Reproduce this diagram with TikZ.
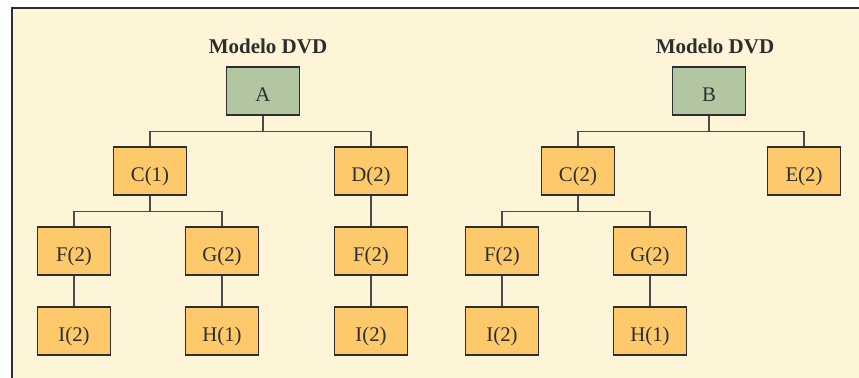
\documentclass[tikz,border=0pt]{standalone}
\usepackage{fontspec}
\setmainfont{Liberation Serif}
\usetikzlibrary{positioning}
\definecolor{crm}{HTML}{FEF4D8}
\definecolor{grn}{HTML}{B2C7A1}
\definecolor{org}{HTML}{FDC96B}
\definecolor{ink}{HTML}{2E2E2E}
\definecolor{wire}{HTML}{4A4A4A}

\begin{document}
\begin{tikzpicture}[
  x=0.5pt, y=-0.5pt,
  font=\fontsize{10.4}{12}\selectfont,
  part/.style={draw=ink, line width=0.75pt, fill=org, minimum width=36.5pt, minimum height=24pt, inner sep=0pt,
    text height=11pt, text depth=0pt, text=ink},
  root/.style={part, fill=grn},
  title/.style={font=\bfseries\fontsize{10.5}{12}\selectfont, text=ink, inner sep=0pt},
  link/.style={draw=wire, line width=0.6pt}
]
\useasboundingbox (0,0) rectangle (859,378);
% ---------------------------------------------------------------- frame
\fill[crm] (12,9) rectangle (859,378);
\draw[ink, line width=1pt] (11.5,378) -- (11.5,8.5) -- (859,8.5);

% ---------------------------------------------------------------- model A
\node[title] (ta) at (268,46) {Modelo DVD};
\node[root] (a) at (263,91) {A};
\node[part] (a-c) at (150,171) {C(1)};
\node[part] (a-d) at (371,171) {D(2)};
\node[part] (a-f) at (74,251) {F(2)};
\node[part] (a-g) at (222,251) {G(2)};
\node[part] (a-df) at (371,251) {F(2)};
\node[part] (a-i) at (74,331) {I(2)};
\node[part] (a-h) at (222,331) {H(1)};
\node[part] (a-di) at (371,331) {I(2)};

\coordinate (a-bar) at ([yshift=-8pt]a.south);
\coordinate (c-bar) at ([yshift=-8pt]a-c.south);
\draw[link] (a.south) -- (a-bar);
\draw[link] (a-c.north) |- (a-bar) -| (a-d.north);
\draw[link] (a-c.south) -- (c-bar);
\draw[link] (a-f.north) |- (c-bar) -| (a-g.north);
\draw[link] (a-d) -- (a-df);
\draw[link] (a-f) -- (a-i);
\draw[link] (a-g) -- (a-h);
\draw[link] (a-df) -- (a-di);

% ---------------------------------------------------------------- model B
\node[title] (tb) at (715,46) {Modelo DVD};
\node[root] (b) at (709,91) {B};
\node[part] (b-c) at (578,171) {C(2)};
\node[part] (b-e) at (804,171) {E(2)};
\node[part] (b-f) at (502,251) {F(2)};
\node[part] (b-g) at (650,251) {G(2)};
\node[part] (b-i) at (502,331) {I(2)};
\node[part] (b-h) at (650,331) {H(1)};

\coordinate (b-bar) at ([yshift=-8pt]b.south);
\coordinate (bc-bar) at ([yshift=-8pt]b-c.south);
\draw[link] (b.south) -- (b-bar);
\draw[link] (b-c.north) |- (b-bar) -| (b-e.north);
\draw[link] (b-c.south) -- (bc-bar);
\draw[link] (b-f.north) |- (bc-bar) -| (b-g.north);
\draw[link] (b-f) -- (b-i);
\draw[link] (b-g) -- (b-h);
\end{tikzpicture}
\end{document}
